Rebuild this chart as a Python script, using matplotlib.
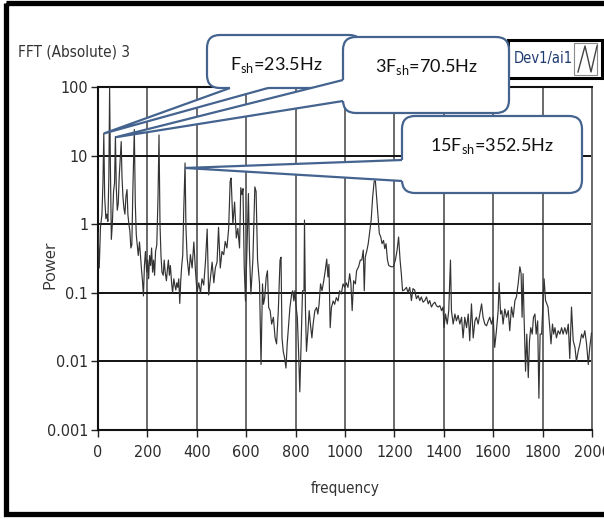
import numpy as np
import matplotlib
matplotlib.use('Agg')
import matplotlib.pyplot as plt
from matplotlib.patches import FancyBboxPatch, Polygon, Rectangle
from matplotlib.ticker import NullLocator

# spectrum, split in three bands
freq_low = [0, 5, 10, 16, 20, 23.5, 27, 32, 36, 40, 44, 47, 50, 54, 58, 63, 67, 70.5, 74, 78,
            82, 86, 90, 94, 97, 101, 105, 109, 113, 117.5, 121, 125, 129, 133, 137, 141, 147, 151, 155, 159,
            163, 168, 172, 176, 180, 184, 188, 192, 197, 201, 205, 209, 213, 217, 221, 225, 229, 233, 238, 243,
            247, 251, 255, 259, 264, 268, 272, 277, 281, 285, 289, 293, 298, 302, 307, 311, 315, 319, 323, 327,
            331, 335, 339, 343, 347, 352.5, 356, 361, 368, 374, 381, 388, 395, 401, 408, 415, 421, 428, 435, 442,
            448, 455, 462, 469, 475, 482, 488, 495, 502, 509, 515, 522, 529, 535, 539, 546, 553, 560, 566, 573,
            578, 583, 587, 592, 597, 603, 609, 613]
power_low = [0.75, 0.23, 0.9, 1.4, 4, 21, 2.5, 1.2, 1.4, 1.1, 5, 100, 8, 0.6, 1.0, 3.0, 4.0, 19, 3.5, 1.6,
             2.0, 5, 9, 16, 5, 2.5, 1.7, 1.4, 2.5, 3.2, 1.4, 1.0, 0.8, 0.45, 0.5, 3.0, 24, 2.0, 0.7, 0.5,
             0.35, 0.55, 0.35, 0.22, 0.15, 0.09, 0.25, 0.4, 0.2, 0.3, 0.16, 0.35, 0.25, 0.45, 0.2, 0.3, 0.18, 0.4, 0.5, 2.5,
             20, 1.0, 0.35, 0.2, 0.18, 0.3, 0.2, 0.15, 0.22, 0.3, 0.18, 0.25, 0.14, 0.1, 0.16, 0.13, 0.11, 0.14, 0.12, 0.16,
             0.07, 0.15, 0.25, 0.35, 1.5, 7.8, 0.9, 0.32, 0.18, 0.36, 0.23, 0.55, 0.2, 0.1, 0.14, 0.1, 0.16, 0.13, 0.28, 0.85,
             0.093, 0.16, 0.28, 0.14, 0.23, 0.28, 0.9, 0.23, 0.4, 0.36, 0.56, 0.45, 0.87, 4.2, 4.7, 1.0, 2.1, 0.63, 0.87, 0.45,
             3.4, 2.7, 3.3, 0.24, 0.076, 0.42, 2.8, 0.42]

freq_mid = [619, 627, 635, 640, 646, 654, 660, 666, 670, 675, 681, 686, 691, 697, 703, 710, 717, 723, 730, 737,
            741, 745, 750, 756, 761, 766, 772, 777, 784, 788, 793, 797, 801, 807, 812, 817, 823, 828, 834, 836,
            840, 844, 850, 855, 860, 866, 871, 878, 885, 890, 895, 901, 907, 914, 920, 926, 931, 935, 940, 945,
            952, 958, 965, 972, 978, 985, 992, 999, 1005, 1012, 1019, 1024, 1029, 1035, 1042, 1047, 1055, 1062, 1068, 1074,
            1078, 1082, 1089, 1094, 1099, 1106, 1112, 1118, 1123, 1128, 1134, 1139, 1145, 1150, 1156, 1161, 1166, 1172, 1177, 1187,
            1196, 1204, 1211, 1217, 1223, 1228, 1233]
power_mid = [0.096, 0.3, 3.5, 3.0, 0.30, 0.135, 0.009, 0.135, 0.068, 0.085, 0.17, 0.21, 0.061, 0.055, 0.035, 0.044, 0.022, 0.018, 0.055, 0.30,
             0.33, 0.022, 0.014, 0.011, 0.008, 0.018, 0.035, 0.061, 0.096, 0.107, 0.076, 0.107, 0.068, 0.044, 0.014, 0.0036, 0.022, 0.107, 0.107, 1.15,
             0.055, 0.014, 0.028, 0.055, 0.035, 0.022, 0.035, 0.055, 0.061, 0.049, 0.068, 0.135, 0.107, 0.15, 0.21, 0.31, 0.17, 0.26, 0.031, 0.061,
             0.076, 0.068, 0.085, 0.076, 0.107, 0.096, 0.135, 0.12, 0.14, 0.12, 0.19, 0.135, 0.055, 0.15, 0.135, 0.21, 0.24, 0.30, 0.30, 0.42,
             0.107, 0.33, 0.42, 0.52, 0.73, 1.15, 2.5, 4.2, 4.3, 2.5, 1.3, 0.73, 0.65, 0.52, 0.58, 0.44, 0.52, 0.30, 0.25, 0.24,
             0.24, 0.30, 0.42, 0.65, 0.30, 0.19, 0.107]

freq_high = [1240, 1249, 1255, 1262, 1269, 1275, 1282, 1289, 1296, 1303, 1309, 1316, 1323, 1330, 1337, 1343, 1350, 1357, 1364, 1370,
             1377, 1384, 1391, 1397, 1401, 1407, 1414, 1420, 1427, 1431, 1438, 1445, 1451, 1458, 1465, 1472, 1478, 1485, 1492, 1499,
             1505, 1512, 1519, 1526, 1532, 1539, 1546, 1553, 1559, 1566, 1573, 1580, 1586, 1593, 1600, 1606, 1613, 1620, 1624, 1630,
             1635, 1640, 1647, 1654, 1661, 1667, 1674, 1681, 1688, 1694, 1701, 1708, 1713, 1717, 1721, 1725, 1731, 1736, 1742, 1747,
             1752, 1758, 1763, 1769, 1774, 1780, 1785, 1790, 1796, 1802, 1806, 1812, 1817, 1822, 1829, 1834, 1840, 1845, 1850, 1856,
             1863, 1870, 1877, 1883, 1890, 1897, 1904, 1910, 1917, 1924, 1931, 1937, 1944, 1951, 1958, 1964, 1971, 1978, 1985, 1991,
             1998, 2000]
power_high = [0.11, 0.12, 0.10, 0.12, 0.077, 0.115, 0.11, 0.082, 0.091, 0.077, 0.087, 0.073, 0.077, 0.087, 0.069, 0.077, 0.062, 0.069, 0.073, 0.065,
              0.062, 0.065, 0.055, 0.062, 0.031, 0.049, 0.035, 0.055, 0.30, 0.055, 0.035, 0.049, 0.039, 0.047, 0.035, 0.044, 0.022, 0.044, 0.031, 0.049,
              0.020, 0.069, 0.022, 0.039, 0.044, 0.035, 0.049, 0.069, 0.044, 0.035, 0.033, 0.039, 0.044, 0.035, 0.044, 0.016, 0.028, 0.055, 0.14, 0.049,
              0.055, 0.035, 0.058, 0.044, 0.055, 0.028, 0.062, 0.044, 0.077, 0.087, 0.135, 0.24, 0.19, 0.044, 0.19, 0.044, 0.0072, 0.025, 0.0058, 0.020,
              0.031, 0.025, 0.044, 0.049, 0.025, 0.039, 0.0029, 0.025, 0.025, 0.077, 0.16, 0.077, 0.069, 0.062, 0.031, 0.018, 0.035, 0.025, 0.031, 0.022,
              0.028, 0.025, 0.031, 0.025, 0.031, 0.025, 0.035, 0.011, 0.062, 0.020, 0.016, 0.010, 0.014, 0.018, 0.025, 0.022, 0.028, 0.018, 0.009, 0.016,
              0.026, 0.026]

x_ticks = [0, 200, 400, 600, 800, 1000, 1200, 1400, 1600, 1800, 2000]
y_ticks = [0.001, 0.01, 0.1, 1, 10, 100]
y_labels = ['0.001', '0.01', '0.1', '1', '10', '100']

# callouts: text and the peak each one points at
call_texts = [r'F$_\mathregular{sh}$=23.5Hz', r'3F$_\mathregular{sh}$=70.5Hz', r'15F$_\mathregular{sh}$=352.5Hz']
tip_freq = [23.5, 70.5, 352.5]
tip_power = [21, 18.5, 6.6]

freq = np.concatenate([freq_low, freq_mid, freq_high])
power = np.concatenate([power_low, power_mid, power_high])

plt.rcParams['font.family'] = ['DejaVu Sans']
plt.rcParams['font.stretch'] = 'condensed'

W, H = 604, 519
fig = plt.figure(figsize=(W / 100, H / 100), dpi=100)
fig.patch.set_facecolor('white')

ax = fig.add_axes([98 / W, 1 - 430 / H, 494 / W, 343 / H])
ax.plot(freq, power, color='#333333', lw=0.85, zorder=3)
ax.set_yscale('log')
ax.set_xlim(0, 2000)
ax.set_ylim(0.001, 100)
ax.set_xticks(x_ticks)
ax.set_xticklabels([str(t) for t in x_ticks])
ax.set_yticks(y_ticks)
ax.set_yticklabels(y_labels)
ax.yaxis.set_minor_locator(NullLocator())
ax.yaxis.grid(True, color='#111111', lw=1.4)
ax.xaxis.grid(True, color='#6a6a6a', lw=1.4)
ax.set_axisbelow(True)
ax.tick_params(axis='both', length=5, width=1, color='#222222', labelcolor='#2b2b2b', labelsize=11.5)
ax.tick_params(axis='y', pad=2)
ax.tick_params(axis='x', pad=6)
for side in ['left', 'bottom', 'top']:
    ax.spines[side].set_color('#111111')
    ax.spines[side].set_linewidth(1.5)
ax.spines['right'].set_color('#6a6a6a')
ax.spines['right'].set_linewidth(1.4)

fig.text(18 / W, 1 - 52 / H, 'FFT (Absolute) 3', ha='left', va='center', fontsize=11, color='#333333')
fig.text(50 / W, 1 - 265 / H, 'Power', rotation=90, ha='center', va='center', fontsize=12,
         color='#333333', family=['Open Sans', 'DejaVu Sans'], stretch='normal')
fig.text(345 / W, 1 - 488 / H, 'frequency', ha='center', va='center', fontsize=11, color='#333333')

# overlay in pixel units for frame, legend and callouts
ov = fig.add_axes([0, 0, 1, 1], zorder=5)
ov.set_xlim(0, W)
ov.set_ylim(H, 0)
ov.axis('off')
ov.patch.set_alpha(0)

ov.add_patch(Rectangle((5.5, 2.5), 640, 511.5, fill=False, ec='black', lw=3.8, zorder=2))

# Dev1/ai1 legend
ov.add_patch(Rectangle((508, 40), 94, 38, fc='white', ec='black', lw=2.2, zorder=3))
ov.text(514, 59, 'Dev1/ai1', ha='left', va='center', fontsize=10.5, color='#1d3b70', zorder=4)
ov.add_patch(Rectangle((574, 43), 23, 32, fc='white', ec='#8a8a8a', lw=0.8, zorder=4))
ov.plot([578, 585, 591, 597], [72, 46, 72, 46], color='#444444', lw=1.0, zorder=5)


def to_ov(f, p):
    X, Y = ax.transData.transform((f, p))
    return (X, H - Y)


edge = '#44648f'
boxes = [(207, 35, 362, 88), (343, 37, 509, 113), (402, 116, 582, 193)]
bases = [((230, 88), (268, 88)), ((343, 80), (343, 101)), ((402, 160), (402, 181))]
inward = [(0, -4), (4, 0), (4, 0)]
text_pos = [(276, 70), (427, 72), (492, 151)]

for i in range(3):
    z = 10 + 4 * i
    x0, y0, x1, y1 = boxes[i]
    ov.add_patch(FancyBboxPatch((x0, y0), x1 - x0, y1 - y0, boxstyle='round,pad=0,rounding_size=13',
                                fc='white', ec=edge, lw=1.6, zorder=z))
    tip = to_ov(tip_freq[i], tip_power[i])
    (bx1, by1), (bx2, by2) = bases[i]
    dx, dy = inward[i]
    ov.add_patch(Polygon([(bx1, by1), tip, (bx2, by2), (bx2 + dx, by2 + dy), (bx1 + dx, by1 + dy)],
                         closed=True, fc='white', ec='none', zorder=z + 1))
    ov.plot([bx1, tip[0], bx2], [by1, tip[1], by2], color=edge, lw=1.6, zorder=z + 2,
            solid_joinstyle='miter', solid_capstyle='butt')
    ov.text(text_pos[i][0], text_pos[i][1], call_texts[i], ha='center', va='baseline', fontsize=13,
            color='#111111', family=['Lato', 'DejaVu Sans'], stretch='normal', zorder=z + 3)

fig.savefig('out.png', dpi=100)
